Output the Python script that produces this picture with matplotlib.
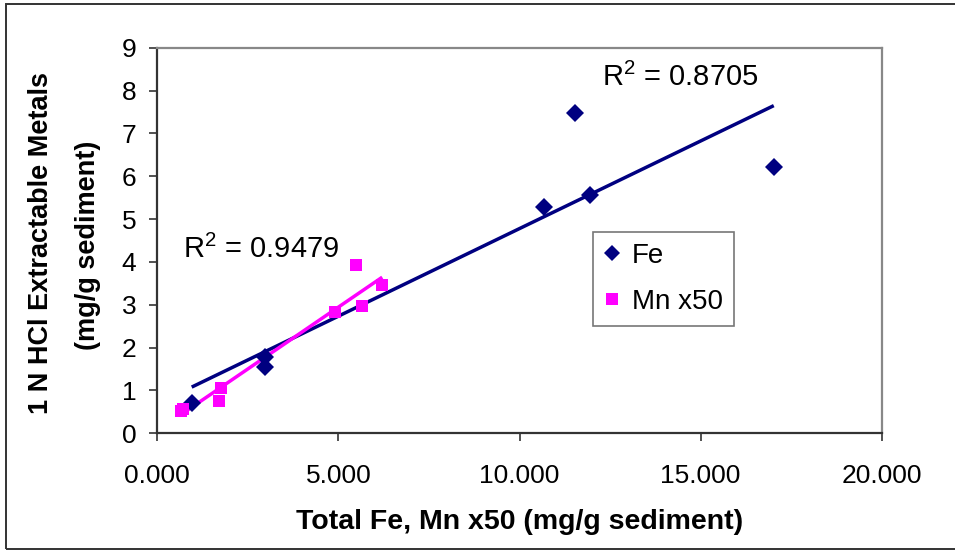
import numpy as np
import matplotlib
matplotlib.use("Agg")
import matplotlib.pyplot as plt
from matplotlib.patches import Rectangle
from matplotlib.lines import Line2D

plt.rcParams['font.family'] = ['Liberation Sans', 'DejaVu Sans']
plt.rcParams['mathtext.fontset'] = 'custom'
plt.rcParams['mathtext.rm'] = 'Liberation Sans'
plt.rcParams['mathtext.default'] = 'regular'

# Measured values
fe_total = [0.95, 2.96, 2.96, 10.67, 11.52, 11.94, 17.02]
fe_hcl = [0.70, 1.54, 1.78, 5.29, 7.47, 5.56, 6.21]
mn_total = [0.65, 0.70, 1.70, 1.76, 4.90, 5.48, 5.66, 6.21]
mn_hcl = [0.53, 0.57, 0.76, 1.05, 2.83, 3.93, 2.97, 3.45]

fe_r2_label = r"$R^2$ = 0.8705"
mn_r2_label = r"$R^2$ = 0.9479"

x_ticks = [0, 5, 10, 15, 20]
y_ticks = list(range(0, 10))

W, H = 955, 550
fig = plt.figure(figsize=(W / 100, H / 100), dpi=100)

def fx(px):
    return px / W

def fy(py):
    return 1 - py / H

# outer chart border
fig.patches.append(Rectangle((fx(6), fy(549)), 1.2, fy(4) - fy(549),
                             transform=fig.transFigure, fill=False,
                             edgecolor='#333333', linewidth=1.4, clip_on=False))

x0, x1, y0, y1 = 157.3, 881.7, 47.7, 433.3
ax = fig.add_axes([fx(x0), fy(y1), fx(x1) - fx(x0), fy(y0) - fy(y1)])

navy = '#000080'
magenta = '#FF00FF'

# linear trendlines over each series' range
for xs, ys, col in [(fe_total, fe_hcl, navy), (mn_total, mn_hcl, magenta)]:
    xs = np.asarray(xs); ys = np.asarray(ys)
    m, b = np.polyfit(xs, ys, 1)
    xl = np.array([xs.min(), xs.max()])
    ax.plot(xl, m * xl + b, color=col, linewidth=2.5, zorder=2,
            solid_capstyle='butt')

ax.plot(fe_total, fe_hcl, linestyle='none', marker='D', markersize=9,
        color=navy, markeredgewidth=0, zorder=3)
ax.plot(mn_total, mn_hcl, linestyle='none', marker='s', markersize=8.5,
        color=magenta, markeredgewidth=0, zorder=4)

ax.set_xlim(0, 20)
ax.set_ylim(0, 9)
ax.set_xticks(x_ticks)
ax.set_xticklabels([f"{v:.3f}" for v in x_ticks])
ax.set_yticks(y_ticks)
ax.set_yticklabels([str(v) for v in y_ticks])

for s in ['left', 'bottom']:
    ax.spines[s].set_color('#333333')
    ax.spines[s].set_linewidth(1.6)
for s in ['top', 'right']:
    ax.spines[s].set_color('#888888')
    ax.spines[s].set_linewidth(1.6)

ax.tick_params(axis='both', direction='out', length=6, width=1.2,
               color='#333333', labelsize=19, labelcolor='black')
ax.tick_params(axis='x', pad=16)
ax.tick_params(axis='y', pad=9)

ax.set_xlabel("Total Fe, Mn x50 (mg/g sediment)", fontsize=20.5,
              fontweight='bold', labelpad=15)
fig.text(fx(41), fy(243), "1 N HCl Extractable Metals", rotation=90,
         fontsize=19.5, fontweight='bold', ha='center', va='center')
fig.text(fx(88), fy(245), "(mg/g sediment)", rotation=90,
         fontsize=19.5, fontweight='bold', ha='center', va='center')

fig.text(fx(602), fy(86), fe_r2_label, fontsize=21, ha='left',
         va='baseline')
fig.text(fx(183), fy(258), mn_r2_label, fontsize=21, ha='left',
         va='baseline')

handles = [
    Line2D([], [], linestyle='none', marker='D', markersize=8.5,
           color=navy, markeredgewidth=0, label='Fe'),
    Line2D([], [], linestyle='none', marker='s', markersize=8,
           color=magenta, markeredgewidth=0, label='Mn x50'),
]
leg = ax.legend(handles=handles, loc='upper left',
                bbox_to_anchor=(fx(593), fy(232)),
                bbox_transform=fig.transFigure, fontsize=20, frameon=True,
                fancybox=False, handlelength=0.55, handletextpad=0.45,
                borderpad=0.4, labelspacing=0.7, borderaxespad=0)
leg.get_frame().set_edgecolor('#555555')
leg.get_frame().set_linewidth(1.2)

fig.savefig("out.png", dpi=100)
